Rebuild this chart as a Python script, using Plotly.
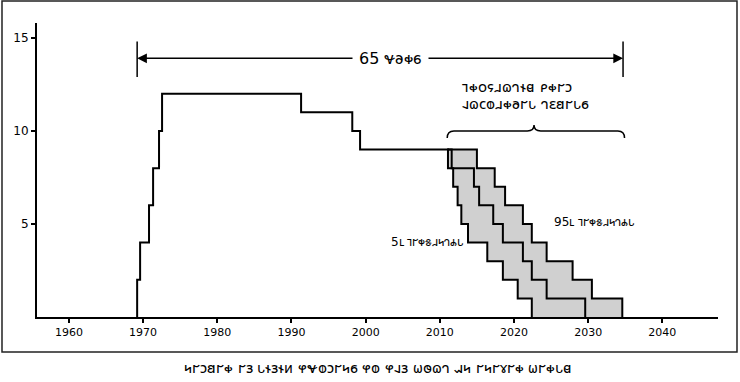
import plotly.graph_objects as go

# ---------------- data ----------------
# recorded history: year of each change and count after it
hist_years = [1969.2, 1969.6, 1970.8, 1971.35, 1972.15, 1972.56, 1991.3, 1998.2, 1999.25, 2011.0]
hist_counts = [2, 4, 6, 8, 10, 12, 11, 10, 9, 9]

# projections: year at which count drops from 9->8, 8->7, ... 1->0
fan_levels = [8, 7, 6, 5, 4, 3, 2, 1, 0]
p5_years = [2011.1, 2011.8, 2012.4, 2012.9, 2013.8, 2016.4, 2018.5, 2020.5, 2022.4]
p50_years = [2011.6, 2014.6, 2015.3, 2017.2, 2018.5, 2021.2, 2022.4, 2024.4, 2029.6]
p95_years = [2015.0, 2017.4, 2018.8, 2021.2, 2022.4, 2024.4, 2027.9, 2030.5, 2034.6]
fan_start_year = 2011.0
fan_start_level = 9

x_ticks = [1960, 1970, 1980, 1990, 2000, 2010, 2020, 2030, 2040]
y_ticks = [5, 10, 15]

span_start, span_end = 1969.2, 2034.7
span_label = "65 \U00010437\U00010428\U00010449\U00010446"
caption = ("\U0001044c\U00010432\U0001044b\U0001043a\U00010432\U00010449 \U00010432\U00010442 "
           "\U0001044a\U0001042e\U00010442\U0001042e\U0001044d \U00010438\U00010437\U0001042d\U0001044b\U00010432\U0001044c\U00010446 "
           "\U00010438\U0001042d \U00010438\U00010430\U00010442 \U00010436\U0001042b\U0001043f\U0001043b \U00010431\U0001044c "
           "\U00010432\U0001044c\U00010432\U00010444\U00010432\U00010449 \U00010436\U00010432\U00010449\U0001044a\U0001043c")
proj_line1 = "\U00010439\U00010449\U0001042c\U0001043e\U0001042f\U0001043f\U0001043b\U0001042e\U0001043c \U00010441\U00010449\U00010432\U0001044b"
proj_line2 = "\U00010430\U0001043f\U0001043d\U0001042d\U0001042f\U00010449\U00010428\U00010432\U0001044a \U0001043b\U00010429\U0001043a\U00010432\U0001044a\U00010446"
pct_word = "\U00010439\U00010432\U00010449\U00010445\U0001042f\U0001044c\U0001043b\U00010434\U0001044a"
label_5 = "5\U00010443 " + pct_word
label_95 = "95\U00010443 " + pct_word

FONT = "DejaVu Sans"


def stair(x0, y0, drop_years, levels):
    xs, ys = [x0], [y0]
    cur = y0
    for yr, lv in zip(drop_years, levels):
        xs += [yr, yr]
        ys += [cur, lv]
        cur = lv
    return xs, ys


fig = go.Figure()

# shaded band between 5th and 95th percentile
lx, ly = stair(fan_start_year, fan_start_level, p5_years, fan_levels)
rx, ry = stair(fan_start_year, fan_start_level, p95_years, fan_levels)
fig.add_trace(go.Scatter(x=lx + rx[::-1], y=ly + ry[::-1], fill="toself", fillcolor="#d0d0d0",
                         line=dict(width=0), mode="lines", hoverinfo="skip", showlegend=False))

# history line
hx = [hist_years[0]] + hist_years
hy = [0] + hist_counts
fig.add_trace(go.Scatter(x=hx, y=hy, mode="lines", line=dict(color="black", width=2, shape="hv"),
                         showlegend=False))
for yrs in (p5_years, p50_years, p95_years):
    sx, sy = stair(fan_start_year, fan_start_level, yrs, fan_levels)
    fig.add_trace(go.Scatter(x=sx, y=sy, mode="lines", line=dict(color="black", width=2),
                             showlegend=False))

shapes = []
# frame around the panel
shapes.append(dict(type="rect", xref="paper", yref="paper", x0=-0.0514, x1=1.0279, y0=-0.119, y1=1.0748,
                   line=dict(color="#222", width=1.5)))
# span bars
span_y = 13.9
for xv in (span_start, span_end):
    shapes.append(dict(type="line", xref="x", yref="y", x0=xv, x1=xv, y0=12.9, y1=14.8,
                       line=dict(color="black", width=1.5)))
# brace
bx0, bx1, bxc = 2011.0, 2034.9, 2022.7
yend, ymid, ytop = 9.62, 10.0, 10.32
d = 0.9
path = (f"M {bx0},{yend} Q {bx0},{ymid} {bx0+d},{ymid} L {bxc-d},{ymid} Q {bxc},{ymid} {bxc},{ytop} "
        f"Q {bxc},{ymid} {bxc+d},{ymid} L {bx1-d},{ymid} Q {bx1},{ymid} {bx1},{yend}")
shapes.append(dict(type="path", xref="x", yref="y", path=path, line=dict(color="black", width=1.5)))

mid = (span_start + span_end) / 2
ann = [
    dict(x=span_start, y=span_y, ax=mid, ay=span_y, axref="x", ayref="y", xref="x", yref="y", text="",
         showarrow=True, arrowhead=2, arrowsize=1.3, arrowwidth=1.5, arrowcolor="black"),
    dict(x=span_end, y=span_y, ax=mid, ay=span_y, axref="x", ayref="y", xref="x", yref="y", text="",
         showarrow=True, arrowhead=2, arrowsize=1.3, arrowwidth=1.5, arrowcolor="black"),
    dict(x=2003.3, y=span_y, xref="x", yref="y", text=span_label, showarrow=False, bgcolor="white",
         borderpad=6, font=dict(family=FONT, size=16, color="black")),
    dict(x=2012.7, y=12.37, xref="x", yref="y", text=proj_line1, showarrow=False, xanchor="left",
         font=dict(family=FONT, size=15, color="black")),
    dict(x=2012.7, y=11.45, xref="x", yref="y", text=proj_line2, showarrow=False, xanchor="left",
         font=dict(family=FONT, size=15, color="black")),
    dict(x=2008.3, y=4.03, xref="x", yref="y", text=label_5, showarrow=False,
         font=dict(family=FONT, size=12, color="black")),
    dict(x=2030.8, y=5.1, xref="x", yref="y", text=label_95, showarrow=False,
         font=dict(family=FONT, size=12, color="black")),
    dict(x=0.5, y=-0.1735, xref="paper", yref="paper", text=caption, showarrow=False,
         yanchor="middle", font=dict(family=FONT, size=14.5, color="black")),
]

fig.update_layout(
    width=740, height=382, margin=dict(l=37, r=22, t=23, b=65),
    paper_bgcolor="white", plot_bgcolor="white", showlegend=False,
    shapes=shapes, annotations=ann,
    xaxis=dict(range=[1955.7, 2047.5], tickvals=x_ticks, ticktext=[str(v) for v in x_ticks],
               showgrid=False, zeroline=False, showline=True, linecolor="black", linewidth=2,
               ticks="outside", ticklen=4, tickwidth=1.5, tickcolor="black", automargin=False,
               tickfont=dict(family=FONT, size=11, color="black")),
    yaxis=dict(range=[0, 15.8], tickvals=y_ticks, ticktext=[str(v) for v in y_ticks],
               showgrid=False, zeroline=False, showline=True, linecolor="black", linewidth=2,
               ticks="outside", ticklen=4, tickwidth=1.5, tickcolor="black", automargin=False,
               tickfont=dict(family=FONT, size=12, color="black")),
)
fig.write_html("out.html", config={"displayModeBar": False},
               post_script="document.body.style.margin='0';document.body.style.overflow='hidden';")
